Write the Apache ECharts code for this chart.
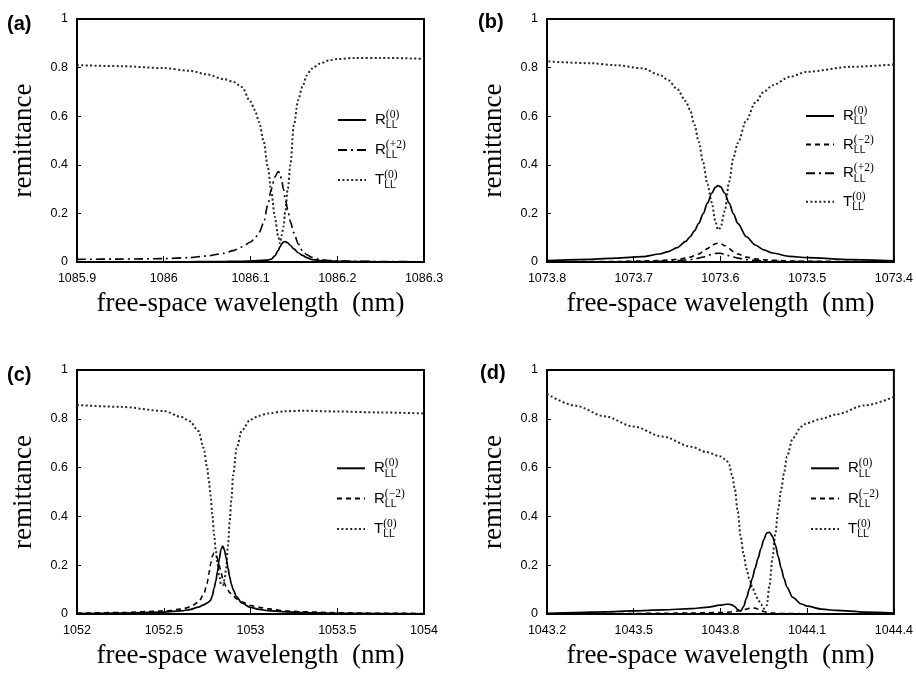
<!DOCTYPE html>
<html>
<head>
<meta charset="utf-8">
<script src="https://cdn.jsdelivr.net/npm/echarts@6/dist/echarts.min.js"></script>
<style>
  html, body { margin: 0; padding: 0; background: #fff; }
  #chart { width: 916px; height: 675px; }
</style>
</head>
<body>
<div id="chart"></div>
<script>
// ---------- Panel (a) ----------
const xA = [1085.9, 1085.95, 1086.0, 1086.03, 1086.05, 1086.07, 1086.08, 1086.09, 1086.1, 1086.105,
  1086.11, 1086.115, 1086.12, 1086.124, 1086.128, 1086.132, 1086.134, 1086.136, 1086.138, 1086.14,
  1086.143, 1086.146, 1086.15, 1086.155, 1086.16, 1086.165, 1086.17, 1086.18, 1086.19, 1086.2,
  1086.22, 1086.25, 1086.3];
const aR0 = [0.001, 0.001, 0.001, 0.001, 0.002, 0.002, 0.003, 0.003, 0.004, 0.005,
  0.006, 0.007, 0.008, 0.012, 0.025, 0.048, 0.062, 0.074, 0.082, 0.084,
  0.079, 0.068, 0.054, 0.038, 0.027, 0.018, 0.011, 0.006, 0.004, 0.003,
  0.002, 0.001, 0.001];
const aRp2 = [0.011, 0.012, 0.014, 0.018, 0.025, 0.036, 0.047, 0.062, 0.082, 0.097,
  0.122, 0.16, 0.235, 0.30, 0.35, 0.372, 0.365, 0.335, 0.30, 0.26,
  0.215, 0.165, 0.12, 0.075, 0.046, 0.03, 0.02, 0.01, 0.006, 0.004,
  0.003, 0.002, 0.001];
const aT0 = [0.81, 0.806, 0.798, 0.787, 0.772, 0.752, 0.742, 0.72, 0.66, 0.625,
  0.575, 0.50, 0.39, 0.29, 0.186, 0.105, 0.077, 0.11, 0.145, 0.205,
  0.302, 0.40, 0.564, 0.667, 0.723, 0.768, 0.795, 0.816, 0.829, 0.835,
  0.84, 0.84, 0.836];

// ---------- Panel (b) ----------
const xB = [1073.4, 1073.45, 1073.5, 1073.52, 1073.54, 1073.55, 1073.56, 1073.57, 1073.58, 1073.585,
  1073.59, 1073.595, 1073.6, 1073.603, 1073.606, 1073.61, 1073.615, 1073.62, 1073.625, 1073.63,
  1073.635, 1073.64, 1073.65, 1073.66, 1073.67, 1073.69, 1073.72, 1073.75, 1073.8];
const bR0 = [0.005, 0.01, 0.018, 0.023, 0.037, 0.05, 0.07, 0.104, 0.159, 0.198,
  0.242, 0.283, 0.31, 0.314, 0.307, 0.283, 0.242, 0.198, 0.159, 0.128,
  0.104, 0.085, 0.059, 0.043, 0.033, 0.022, 0.016, 0.011, 0.006];
const bRm2 = [0.001, 0.002, 0.003, 0.004, 0.007, 0.009, 0.013, 0.02, 0.033, 0.043,
  0.055, 0.067, 0.076, 0.077, 0.075, 0.067, 0.055, 0.043, 0.033, 0.026,
  0.02, 0.016, 0.011, 0.008, 0.006, 0.004, 0.002, 0.002, 0.001];
const bRp2 = [0.0005, 0.001, 0.0015, 0.002, 0.0035, 0.0045, 0.0065, 0.0098, 0.0158, 0.0204,
  0.0259, 0.0316, 0.0354, 0.036, 0.0349, 0.0316, 0.0259, 0.0204, 0.0158, 0.0124,
  0.0098, 0.008, 0.0055, 0.0039, 0.0029, 0.0018, 0.001, 0.0007, 0.0005];
const bT0 = [0.813, 0.803, 0.783, 0.762, 0.727, 0.70, 0.655, 0.584, 0.49, 0.43,
  0.33, 0.21, 0.14, 0.133, 0.17, 0.245, 0.32, 0.41, 0.495, 0.565,
  0.626, 0.662, 0.712, 0.748, 0.77, 0.797, 0.81, 0.818, 0.826];

// ---------- Panel (c) ----------
const xC = [1052, 1052.25, 1052.5, 1052.6, 1052.65, 1052.7, 1052.73, 1052.75, 1052.76, 1052.77,
  1052.78, 1052.79, 1052.8, 1052.81, 1052.82, 1052.83, 1052.84, 1052.85, 1052.86, 1052.87,
  1052.88, 1052.89, 1052.9, 1052.92, 1052.95, 1053.0, 1053.05, 1053.1, 1053.2, 1053.3,
  1053.5, 1053.75, 1054];
const cR0 = [0.002, 0.004, 0.008, 0.013, 0.018, 0.028, 0.037, 0.045, 0.05, 0.056,
  0.075, 0.105, 0.135, 0.175, 0.225, 0.265, 0.278, 0.262, 0.228, 0.19,
  0.152, 0.122, 0.10, 0.07, 0.045, 0.027, 0.019, 0.014, 0.009, 0.006,
  0.003, 0.002, 0.001];
const cRm2 = [0.003, 0.006, 0.012, 0.02, 0.028, 0.048, 0.08, 0.125, 0.165, 0.205,
  0.238, 0.25, 0.245, 0.225, 0.20, 0.17, 0.145, 0.125, 0.11, 0.098,
  0.088, 0.08, 0.074, 0.062, 0.05, 0.035, 0.027, 0.021, 0.013, 0.009,
  0.005, 0.003, 0.002];
const cT0 = [0.857, 0.849, 0.832, 0.808, 0.79, 0.75, 0.68, 0.60, 0.545, 0.485,
  0.41, 0.325, 0.26, 0.205, 0.155, 0.122, 0.118, 0.14, 0.19, 0.28,
  0.38, 0.47, 0.57, 0.68, 0.752, 0.797, 0.813, 0.822, 0.831, 0.833,
  0.83, 0.826, 0.822];

// ---------- Panel (d) ----------
const xD = [1043.2, 1043.3, 1043.4, 1043.5, 1043.6, 1043.7, 1043.75, 1043.8, 1043.82, 1043.83,
  1043.84, 1043.85, 1043.86, 1043.87, 1043.88, 1043.89, 1043.9, 1043.91, 1043.92, 1043.93,
  1043.94, 1043.95, 1043.96, 1043.97, 1043.98, 1043.99, 1044.0, 1044.01, 1044.02, 1044.03,
  1044.05, 1044.08, 1044.1, 1044.15, 1044.2, 1044.3, 1044.4];
const dR0 = [0.003, 0.006, 0.009, 0.013, 0.017, 0.022, 0.027, 0.036, 0.04, 0.04,
  0.037, 0.03, 0.018, 0.012, 0.03, 0.065, 0.103, 0.145, 0.188, 0.228,
  0.268, 0.305, 0.332, 0.335, 0.318, 0.283, 0.235, 0.188, 0.145, 0.11,
  0.068, 0.041, 0.032, 0.02, 0.015, 0.008, 0.004];
const dRm2 = [0.001, 0.001, 0.002, 0.002, 0.003, 0.004, 0.005, 0.006, 0.007, 0.008,
  0.009, 0.01, 0.012, 0.014, 0.017, 0.02, 0.023, 0.025, 0.024, 0.02,
  0.015, 0.01, 0.007, 0.005, 0.004, 0.003, 0.003, 0.002, 0.002, 0.002,
  0.002, 0.001, 0.001, 0.001, 0.001, 0.001, 0.001];
const dT0 = [0.902, 0.853, 0.81, 0.768, 0.727, 0.685, 0.664, 0.646, 0.632, 0.612,
  0.57, 0.51, 0.42, 0.317, 0.245, 0.185, 0.145, 0.112, 0.083, 0.06,
  0.04, 0.022, 0.035, 0.12, 0.23, 0.33, 0.43, 0.51, 0.577, 0.645,
  0.72, 0.768, 0.783, 0.80, 0.818, 0.855, 0.89];

// ---------- tick / label settings ----------
const xRanges = [[1085.9, 1086.3, 0.1], [1073.4, 1073.8, 0.1], [1052, 1054, 0.5], [1043.2, 1044.4, 0.3]];
const yTicks = [0, 0.2, 0.4, 0.6, 0.8, 1];
const panelLabels = ['(a)', '(b)', '(c)', '(d)'];
const xTitle = 'free-space wavelength  (nm)';
const yTitle = 'remittance';
const legendSets = [['R0', 'Rp2', 'T0'], ['R0', 'Rm2', 'Rp2', 'T0'], ['R0', 'Rm2', 'T0'], ['R0', 'Rm2', 'T0']];

function zip(xs, ys) { return xs.map((x, i) => [x, ys[i]]); }

const styles = {
  R0:  { type: 'solid', width: 1.7, color: '#000' },
  Rm2: { type: [5, 4], width: 1.6, color: '#000' },
  Rp2: { type: [9, 4, 2, 4], width: 1.6, color: '#000' },
  T0:  { type: [2, 2.4], width: 2, color: '#262626' }
};
const legendText = {
  R0:  '{r|R}{sub|LL}{sup|(0)}',
  Rm2: '{r|R}{sub|LL}{sup|(\u22122)}',
  Rp2: '{r|R}{sub|LL}{sup|(+2)}',
  T0:  '{r|T}{sub|LL}{sup|(0)}'
};

const panelSeries = [
  { x: xA, s: { R0: aR0, Rp2: aRp2, T0: aT0 } },
  { x: xB, s: { R0: bR0, Rm2: bRm2, Rp2: bRp2, T0: bT0 } },
  { x: xC, s: { R0: cR0, Rm2: cRm2, T0: cT0 } },
  { x: xD, s: { R0: dR0, Rm2: dRm2, T0: dT0 } }
];

const grids = [
  { left: 77, top: 19, width: 347, height: 243 },
  { left: 547, top: 19, width: 347, height: 243 },
  { left: 77, top: 370, width: 347, height: 244 },
  { left: 547, top: 370, width: 347, height: 244 }
];
const titlePos = [[7, 14], [478, 12.5], [7, 365], [480, 363]];
const legendPos = [[337, 109, 8], [805, 105, 6.6], [336, 457.3, 8.3], [810, 457.3, 8.3]];

const sans = 'Liberation Sans, Arial, Helvetica, sans-serif';
const serif = 'Liberation Serif, Times New Roman, serif';

const option = {
  backgroundColor: '#fff',
  animation: false,
  title: panelLabels.map((t, i) => ({
    text: t, left: titlePos[i][0], top: titlePos[i][1], padding: 0,
    textStyle: { fontFamily: sans, fontWeight: 'bold', fontSize: 20, color: '#000' }
  })),
  grid: grids.map(g => Object.assign({ show: true, borderColor: '#000', borderWidth: 2, backgroundColor: 'transparent' }, g)),
  xAxis: xRanges.map((r, i) => ({
    type: 'value', gridIndex: i, min: r[0], max: r[1], interval: r[2],
    inverse: i === 1,
    name: xTitle, nameLocation: 'middle', nameGap: 28,
    nameTextStyle: { fontFamily: serif, fontSize: 27, color: '#000' },
    axisLine: { show: false },
    axisTick: { show: true, inside: true, length: 6, lineStyle: { color: '#000', width: 1 } },
    axisLabel: { margin: 10, fontFamily: sans, fontSize: 12.5, color: '#000',
      formatter: v => String(parseFloat(Number(v).toFixed(3))) },
    splitLine: { show: false }
  })),
  yAxis: grids.map((g, i) => ({
    type: 'value', gridIndex: i, min: yTicks[0], max: yTicks[yTicks.length - 1], interval: yTicks[1] - yTicks[0],
    name: yTitle, nameLocation: 'middle', nameGap: 40,
    nameTextStyle: { fontFamily: serif, fontSize: 27, color: '#000' },
    axisLine: { show: false },
    axisTick: { show: true, inside: true, length: 4, lineStyle: { color: '#000', width: 1 } },
    axisLabel: { margin: 9, fontFamily: sans, fontSize: 12.5, color: '#000' },
    splitLine: { show: false }
  })),
  legend: legendSets.map((names, i) => ({
    orient: 'vertical', left: legendPos[i][0], top: legendPos[i][1], itemGap: legendPos[i][2],
    padding: 0, itemWidth: 28, itemHeight: 14, selectedMode: false,
    data: names,
    itemStyle: { opacity: 0, color: 'transparent', borderWidth: 0 },
    formatter: n => legendText[n],
    textStyle: {
      color: '#000',
      rich: {
        r: { fontFamily: sans, fontSize: 15, lineHeight: 22, padding: [0, 0, 0, 4], color: '#000' },
        sub: { fontFamily: sans, fontSize: 10.5, verticalAlign: 'bottom', width: 0, color: '#000' },
        sup: { fontFamily: serif, fontSize: 11.5, verticalAlign: 'top', color: '#000' }
      }
    }
  })),
  series: []
};

panelSeries.forEach((p, i) => {
  Object.keys(p.s).forEach(name => {
    option.series.push({
      name: name, type: 'line', xAxisIndex: i, yAxisIndex: i,
      data: zip(p.x, p.s[name]),
      symbol: 'none', smooth: 0.3, smoothMonotone: 'x',
      lineStyle: styles[name], itemStyle: { color: '#000' },
      z: name === 'T0' ? 2 : 3
    });
  });
});

const chart = echarts.init(document.getElementById('chart'), null, { renderer: 'canvas' });
chart.setOption(option);
</script>
</body>
</html>
